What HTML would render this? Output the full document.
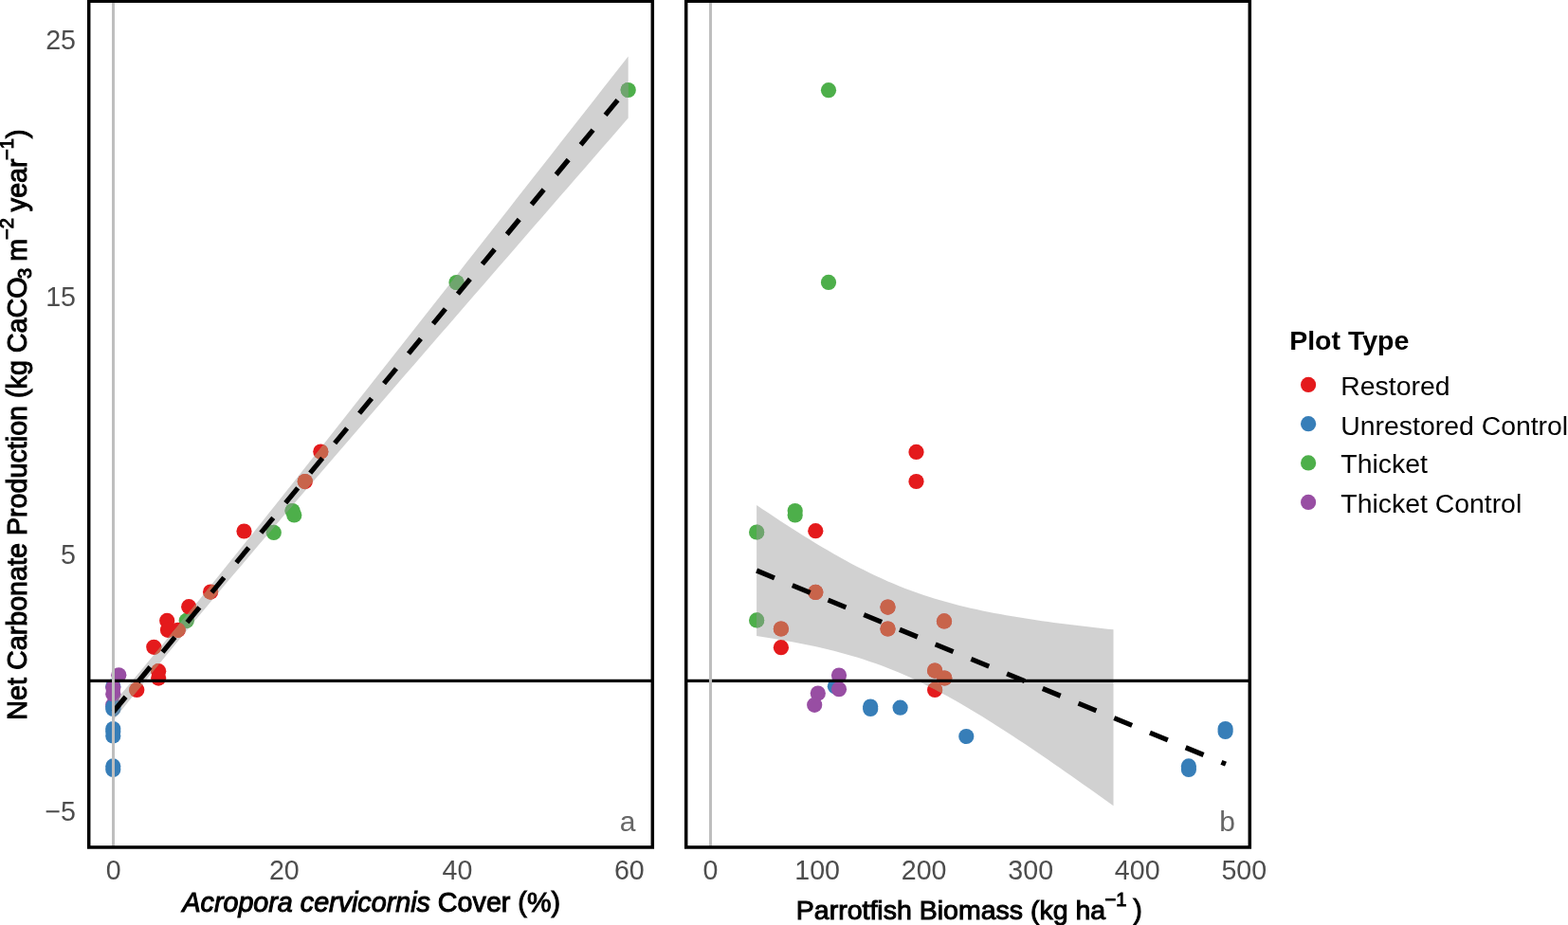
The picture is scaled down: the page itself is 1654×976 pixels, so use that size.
<!DOCTYPE html>
<html><head><meta charset="utf-8"><title>Net carbonate production</title>
<style>html,body{margin:0;padding:0;background:#fff;overflow:hidden}svg{display:block}</style>
</head><body>
<svg width="1654" height="976" viewBox="0 0 1654 976" font-family="'Liberation Sans', Arial, Helvetica, sans-serif">
<rect width="1654" height="976" fill="#fff"/>
<defs>
<clipPath id="ca"><rect x="93.7" y="1.2" width="594.6" height="892.8"/></clipPath>
<clipPath id="cb"><rect x="723.7" y="1.2" width="594.6" height="892.8"/></clipPath>
<clipPath id="ra"><path d="M119.60,741.96 L128.65,731.23 L137.70,720.46 L146.75,709.66 L155.81,698.82 L164.86,687.93 L173.91,677.01 L182.96,666.04 L192.01,655.03 L201.06,643.97 L210.12,632.88 L219.17,621.74 L228.22,610.57 L237.27,599.35 L246.32,588.11 L255.38,576.84 L264.43,565.53 L273.48,554.21 L282.53,542.86 L291.58,531.49 L300.63,520.10 L309.69,508.69 L318.74,497.28 L327.79,485.84 L336.84,474.40 L345.89,462.95 L354.94,451.48 L364.00,440.01 L373.05,428.53 L382.10,417.05 L391.15,405.55 L400.20,394.06 L409.25,382.55 L418.30,371.04 L427.36,359.53 L436.41,348.02 L445.46,336.50 L454.51,324.97 L463.56,313.45 L472.62,301.92 L481.67,290.38 L490.72,278.85 L499.77,267.31 L508.82,255.78 L517.87,244.24 L526.92,232.69 L535.98,221.15 L545.03,209.61 L554.08,198.06 L563.13,186.51 L572.18,174.96 L581.24,163.41 L590.29,151.86 L599.34,140.31 L608.39,128.75 L617.44,117.20 L626.49,105.64 L635.55,94.09 L644.60,82.53 L653.65,70.97 L662.70,59.41 L662.70,124.59 L653.65,134.99 L644.60,145.40 L635.55,155.81 L626.49,166.22 L617.44,176.63 L608.39,187.05 L599.34,197.46 L590.29,207.87 L581.24,218.29 L572.18,228.71 L563.13,239.12 L554.08,249.54 L545.03,259.96 L535.98,270.38 L526.92,280.81 L517.87,291.23 L508.82,301.66 L499.77,312.09 L490.72,322.52 L481.67,332.95 L472.62,343.38 L463.56,353.82 L454.51,364.26 L445.46,374.70 L436.41,385.15 L427.36,395.60 L418.30,406.06 L409.25,416.51 L400.20,426.98 L391.15,437.45 L382.10,447.92 L373.05,458.40 L364.00,468.89 L354.94,479.38 L345.89,489.89 L336.84,500.40 L327.79,510.92 L318.74,521.46 L309.69,532.01 L300.63,542.57 L291.58,553.15 L282.53,563.74 L273.48,574.36 L264.43,585.00 L255.38,595.66 L246.32,606.36 L237.27,617.08 L228.22,627.83 L219.17,638.63 L210.12,649.46 L201.06,660.33 L192.01,671.24 L182.96,682.19 L173.91,693.19 L164.86,704.23 L155.81,715.32 L146.75,726.44 L137.70,737.61 L128.65,748.81 L119.60,760.04 Z"/></clipPath>
<clipPath id="rb"><path d="M798.10,532.90 L804.37,537.13 L810.65,541.34 L816.92,545.50 L823.19,549.63 L829.47,553.71 L835.74,557.75 L842.01,561.74 L848.29,565.69 L854.56,569.57 L860.83,573.40 L867.11,577.16 L873.38,580.86 L879.65,584.48 L885.93,588.03 L892.20,591.50 L898.47,594.88 L904.75,598.17 L911.02,601.37 L917.29,604.47 L923.57,607.47 L929.84,610.37 L936.11,613.16 L942.39,615.85 L948.66,618.43 L954.93,620.90 L961.21,623.27 L967.48,625.53 L973.75,627.69 L980.03,629.75 L986.30,631.71 L992.57,633.58 L998.85,635.36 L1005.12,637.05 L1011.39,638.67 L1017.67,640.21 L1023.94,641.68 L1030.21,643.08 L1036.49,644.42 L1042.76,645.70 L1049.03,646.93 L1055.31,648.11 L1061.58,649.23 L1067.85,650.32 L1074.13,651.36 L1080.40,652.37 L1086.67,653.34 L1092.95,654.28 L1099.22,655.18 L1105.49,656.06 L1111.77,656.91 L1118.04,657.74 L1124.31,658.54 L1130.59,659.32 L1136.86,660.09 L1143.13,660.83 L1149.41,661.56 L1155.68,662.26 L1161.95,662.96 L1168.23,663.64 L1174.50,664.30 L1174.50,850.30 L1168.23,845.79 L1161.95,841.29 L1155.68,836.81 L1149.41,832.34 L1143.13,827.89 L1136.86,823.46 L1130.59,819.04 L1124.31,814.65 L1118.04,810.28 L1111.77,805.93 L1105.49,801.60 L1099.22,797.30 L1092.95,793.03 L1086.67,788.79 L1080.40,784.59 L1074.13,780.41 L1067.85,776.28 L1061.58,772.19 L1055.31,768.14 L1049.03,764.14 L1042.76,760.19 L1036.49,756.29 L1030.21,752.46 L1023.94,748.68 L1017.67,744.98 L1011.39,741.34 L1005.12,737.78 L998.85,734.30 L992.57,730.90 L986.30,727.59 L980.03,724.38 L973.75,721.26 L967.48,718.24 L961.21,715.33 L954.93,712.52 L948.66,709.81 L942.39,707.21 L936.11,704.72 L929.84,702.34 L923.57,700.06 L917.29,697.89 L911.02,695.81 L904.75,693.83 L898.47,691.95 L892.20,690.15 L885.93,688.44 L879.65,686.82 L873.38,685.26 L867.11,683.78 L860.83,682.37 L854.56,681.02 L848.29,679.73 L842.01,678.49 L835.74,677.31 L829.47,676.17 L823.19,675.08 L816.92,674.03 L810.65,673.02 L804.37,672.04 L798.10,671.10 Z"/></clipPath>
</defs>
<g clip-path="url(#ca)">
<circle cx="662.7" cy="95.0" r="8.1" fill="#4DAF4A"/>
<circle cx="481.5" cy="298.0" r="8.1" fill="#4DAF4A"/>
<circle cx="308.6" cy="539.0" r="8.1" fill="#4DAF4A"/>
<circle cx="310.3" cy="543.5" r="8.1" fill="#4DAF4A"/>
<circle cx="288.8" cy="561.9" r="8.1" fill="#4DAF4A"/>
<circle cx="196.7" cy="654.9" r="8.1" fill="#4DAF4A"/>
<circle cx="338.3" cy="476.5" r="8.1" fill="#E41A1C"/>
<circle cx="321.8" cy="508.1" r="8.1" fill="#E41A1C"/>
<circle cx="257.5" cy="560.5" r="8.1" fill="#E41A1C"/>
<circle cx="222.1" cy="624.6" r="8.1" fill="#E41A1C"/>
<circle cx="199.2" cy="640.2" r="8.1" fill="#E41A1C"/>
<circle cx="176.2" cy="654.9" r="8.1" fill="#E41A1C"/>
<circle cx="177.0" cy="664.8" r="8.1" fill="#E41A1C"/>
<circle cx="187.7" cy="664.8" r="8.1" fill="#E41A1C"/>
<circle cx="162.3" cy="682.8" r="8.1" fill="#E41A1C"/>
<circle cx="167.2" cy="708.2" r="8.1" fill="#E41A1C"/>
<circle cx="167.2" cy="715.6" r="8.1" fill="#E41A1C"/>
<circle cx="144.3" cy="727.9" r="8.1" fill="#E41A1C"/>
<circle cx="119.3" cy="743.8" r="8.1" fill="#984EA3"/>
<circle cx="119.3" cy="724.3" r="8.1" fill="#377EB8"/>
<circle cx="119.3" cy="745.5" r="8.1" fill="#377EB8"/>
<circle cx="119.3" cy="748.0" r="8.1" fill="#377EB8"/>
<circle cx="119.3" cy="769.0" r="8.1" fill="#377EB8"/>
<circle cx="119.3" cy="772.0" r="8.1" fill="#377EB8"/>
<circle cx="119.3" cy="776.5" r="8.1" fill="#377EB8"/>
<circle cx="119.3" cy="808.4" r="8.1" fill="#377EB8"/>
<circle cx="119.3" cy="812.0" r="8.1" fill="#377EB8"/>
<circle cx="125.3" cy="712.3" r="8.1" fill="#984EA3"/>
<circle cx="119.3" cy="725.5" r="8.1" fill="#984EA3"/>
<circle cx="119.3" cy="732.2" r="8.1" fill="#984EA3"/>
<path d="M119.60,741.96 L128.65,731.23 L137.70,720.46 L146.75,709.66 L155.81,698.82 L164.86,687.93 L173.91,677.01 L182.96,666.04 L192.01,655.03 L201.06,643.97 L210.12,632.88 L219.17,621.74 L228.22,610.57 L237.27,599.35 L246.32,588.11 L255.38,576.84 L264.43,565.53 L273.48,554.21 L282.53,542.86 L291.58,531.49 L300.63,520.10 L309.69,508.69 L318.74,497.28 L327.79,485.84 L336.84,474.40 L345.89,462.95 L354.94,451.48 L364.00,440.01 L373.05,428.53 L382.10,417.05 L391.15,405.55 L400.20,394.06 L409.25,382.55 L418.30,371.04 L427.36,359.53 L436.41,348.02 L445.46,336.50 L454.51,324.97 L463.56,313.45 L472.62,301.92 L481.67,290.38 L490.72,278.85 L499.77,267.31 L508.82,255.78 L517.87,244.24 L526.92,232.69 L535.98,221.15 L545.03,209.61 L554.08,198.06 L563.13,186.51 L572.18,174.96 L581.24,163.41 L590.29,151.86 L599.34,140.31 L608.39,128.75 L617.44,117.20 L626.49,105.64 L635.55,94.09 L644.60,82.53 L653.65,70.97 L662.70,59.41 L662.70,124.59 L653.65,134.99 L644.60,145.40 L635.55,155.81 L626.49,166.22 L617.44,176.63 L608.39,187.05 L599.34,197.46 L590.29,207.87 L581.24,218.29 L572.18,228.71 L563.13,239.12 L554.08,249.54 L545.03,259.96 L535.98,270.38 L526.92,280.81 L517.87,291.23 L508.82,301.66 L499.77,312.09 L490.72,322.52 L481.67,332.95 L472.62,343.38 L463.56,353.82 L454.51,364.26 L445.46,374.70 L436.41,385.15 L427.36,395.60 L418.30,406.06 L409.25,416.51 L400.20,426.98 L391.15,437.45 L382.10,447.92 L373.05,458.40 L364.00,468.89 L354.94,479.38 L345.89,489.89 L336.84,500.40 L327.79,510.92 L318.74,521.46 L309.69,532.01 L300.63,542.57 L291.58,553.15 L282.53,563.74 L273.48,574.36 L264.43,585.00 L255.38,595.66 L246.32,606.36 L237.27,617.08 L228.22,627.83 L219.17,638.63 L210.12,649.46 L201.06,660.33 L192.01,671.24 L182.96,682.19 L173.91,693.19 L164.86,704.23 L155.81,715.32 L146.75,726.44 L137.70,737.61 L128.65,748.81 L119.60,760.04 Z" fill="#999999" fill-opacity="0.45"/>
<g clip-path="url(#ra)">
<circle cx="662.7" cy="95.0" r="8.1" fill="rgb(111,165,110)"/>
<circle cx="481.5" cy="298.0" r="8.1" fill="rgb(111,165,110)"/>
<circle cx="308.6" cy="539.0" r="8.1" fill="rgb(111,165,110)"/>
<circle cx="310.3" cy="543.5" r="8.1" fill="rgb(111,165,110)"/>
<circle cx="288.8" cy="561.9" r="8.1" fill="rgb(111,165,110)"/>
<circle cx="196.7" cy="654.9" r="8.1" fill="rgb(111,165,110)"/>
<circle cx="338.3" cy="476.5" r="8.1" fill="rgb(200,100,75)"/>
<circle cx="321.8" cy="508.1" r="8.1" fill="rgb(200,100,75)"/>
<circle cx="257.5" cy="560.5" r="8.1" fill="rgb(200,100,75)"/>
<circle cx="222.1" cy="624.6" r="8.1" fill="rgb(200,100,75)"/>
<circle cx="199.2" cy="640.2" r="8.1" fill="rgb(200,100,75)"/>
<circle cx="176.2" cy="654.9" r="8.1" fill="rgb(200,100,75)"/>
<circle cx="177.0" cy="664.8" r="8.1" fill="rgb(200,100,75)"/>
<circle cx="187.7" cy="664.8" r="8.1" fill="rgb(200,100,75)"/>
<circle cx="162.3" cy="682.8" r="8.1" fill="rgb(200,100,75)"/>
<circle cx="167.2" cy="708.2" r="8.1" fill="rgb(200,100,75)"/>
<circle cx="167.2" cy="715.6" r="8.1" fill="rgb(200,100,75)"/>
<circle cx="144.3" cy="727.9" r="8.1" fill="rgb(200,100,75)"/>
<circle cx="119.3" cy="743.8" r="8.1" fill="rgb(152,112,158)"/>
<circle cx="119.3" cy="724.3" r="8.1" fill="rgb(99,138,170)"/>
<circle cx="119.3" cy="745.5" r="8.1" fill="rgb(99,138,170)"/>
<circle cx="119.3" cy="748.0" r="8.1" fill="rgb(99,138,170)"/>
<circle cx="119.3" cy="769.0" r="8.1" fill="rgb(99,138,170)"/>
<circle cx="119.3" cy="772.0" r="8.1" fill="rgb(99,138,170)"/>
<circle cx="119.3" cy="776.5" r="8.1" fill="rgb(99,138,170)"/>
<circle cx="119.3" cy="808.4" r="8.1" fill="rgb(99,138,170)"/>
<circle cx="119.3" cy="812.0" r="8.1" fill="rgb(99,138,170)"/>
<circle cx="125.3" cy="712.3" r="8.1" fill="rgb(152,112,158)"/>
<circle cx="119.3" cy="725.5" r="8.1" fill="rgb(152,112,158)"/>
<circle cx="119.3" cy="732.2" r="8.1" fill="rgb(152,112,158)"/>
</g>
<line x1="119.6" y1="751.0" x2="662.7" y2="92.0" stroke="#000" stroke-width="5.2" stroke-dasharray="20.4 20.4"/>
<line x1="90" y1="718.4" x2="700" y2="718.4" stroke="#000" stroke-width="3.2"/>
<line x1="119.5" y1="0" x2="119.5" y2="900" stroke="#BEBEBE" stroke-width="3"/>
</g>
<g clip-path="url(#cb)">
<circle cx="874.0" cy="95.2" r="8.1" fill="#4DAF4A"/>
<circle cx="874.0" cy="297.9" r="8.1" fill="#4DAF4A"/>
<circle cx="838.7" cy="539.0" r="8.1" fill="#4DAF4A"/>
<circle cx="838.7" cy="543.5" r="8.1" fill="#4DAF4A"/>
<circle cx="798.1" cy="561.5" r="8.1" fill="#4DAF4A"/>
<circle cx="798.1" cy="654.4" r="8.1" fill="#4DAF4A"/>
<circle cx="966.5" cy="476.9" r="8.1" fill="#E41A1C"/>
<circle cx="966.5" cy="508.0" r="8.1" fill="#E41A1C"/>
<circle cx="860.3" cy="560.2" r="8.1" fill="#E41A1C"/>
<circle cx="860.3" cy="624.9" r="8.1" fill="#E41A1C"/>
<circle cx="823.9" cy="663.5" r="8.1" fill="#E41A1C"/>
<circle cx="823.9" cy="683.2" r="8.1" fill="#E41A1C"/>
<circle cx="936.5" cy="640.6" r="8.1" fill="#E41A1C"/>
<circle cx="936.5" cy="663.5" r="8.1" fill="#E41A1C"/>
<circle cx="996.0" cy="655.4" r="8.1" fill="#E41A1C"/>
<circle cx="986.1" cy="707.6" r="8.1" fill="#E41A1C"/>
<circle cx="996.3" cy="715.5" r="8.1" fill="#E41A1C"/>
<circle cx="986.1" cy="727.9" r="8.1" fill="#E41A1C"/>
<circle cx="880.9" cy="724.3" r="8.1" fill="#377EB8"/>
<circle cx="918.2" cy="745.5" r="8.1" fill="#377EB8"/>
<circle cx="918.2" cy="748.0" r="8.1" fill="#377EB8"/>
<circle cx="949.6" cy="746.7" r="8.1" fill="#377EB8"/>
<circle cx="1019.3" cy="777.0" r="8.1" fill="#377EB8"/>
<circle cx="1292.6" cy="769.0" r="8.1" fill="#377EB8"/>
<circle cx="1292.6" cy="772.0" r="8.1" fill="#377EB8"/>
<circle cx="1253.9" cy="808.4" r="8.1" fill="#377EB8"/>
<circle cx="1253.9" cy="812.0" r="8.1" fill="#377EB8"/>
<circle cx="885.0" cy="712.6" r="8.1" fill="#984EA3"/>
<circle cx="885.0" cy="727.2" r="8.1" fill="#984EA3"/>
<circle cx="862.8" cy="731.5" r="8.1" fill="#984EA3"/>
<circle cx="859.2" cy="743.8" r="8.1" fill="#984EA3"/>
<path d="M798.10,532.90 L804.37,537.13 L810.65,541.34 L816.92,545.50 L823.19,549.63 L829.47,553.71 L835.74,557.75 L842.01,561.74 L848.29,565.69 L854.56,569.57 L860.83,573.40 L867.11,577.16 L873.38,580.86 L879.65,584.48 L885.93,588.03 L892.20,591.50 L898.47,594.88 L904.75,598.17 L911.02,601.37 L917.29,604.47 L923.57,607.47 L929.84,610.37 L936.11,613.16 L942.39,615.85 L948.66,618.43 L954.93,620.90 L961.21,623.27 L967.48,625.53 L973.75,627.69 L980.03,629.75 L986.30,631.71 L992.57,633.58 L998.85,635.36 L1005.12,637.05 L1011.39,638.67 L1017.67,640.21 L1023.94,641.68 L1030.21,643.08 L1036.49,644.42 L1042.76,645.70 L1049.03,646.93 L1055.31,648.11 L1061.58,649.23 L1067.85,650.32 L1074.13,651.36 L1080.40,652.37 L1086.67,653.34 L1092.95,654.28 L1099.22,655.18 L1105.49,656.06 L1111.77,656.91 L1118.04,657.74 L1124.31,658.54 L1130.59,659.32 L1136.86,660.09 L1143.13,660.83 L1149.41,661.56 L1155.68,662.26 L1161.95,662.96 L1168.23,663.64 L1174.50,664.30 L1174.50,850.30 L1168.23,845.79 L1161.95,841.29 L1155.68,836.81 L1149.41,832.34 L1143.13,827.89 L1136.86,823.46 L1130.59,819.04 L1124.31,814.65 L1118.04,810.28 L1111.77,805.93 L1105.49,801.60 L1099.22,797.30 L1092.95,793.03 L1086.67,788.79 L1080.40,784.59 L1074.13,780.41 L1067.85,776.28 L1061.58,772.19 L1055.31,768.14 L1049.03,764.14 L1042.76,760.19 L1036.49,756.29 L1030.21,752.46 L1023.94,748.68 L1017.67,744.98 L1011.39,741.34 L1005.12,737.78 L998.85,734.30 L992.57,730.90 L986.30,727.59 L980.03,724.38 L973.75,721.26 L967.48,718.24 L961.21,715.33 L954.93,712.52 L948.66,709.81 L942.39,707.21 L936.11,704.72 L929.84,702.34 L923.57,700.06 L917.29,697.89 L911.02,695.81 L904.75,693.83 L898.47,691.95 L892.20,690.15 L885.93,688.44 L879.65,686.82 L873.38,685.26 L867.11,683.78 L860.83,682.37 L854.56,681.02 L848.29,679.73 L842.01,678.49 L835.74,677.31 L829.47,676.17 L823.19,675.08 L816.92,674.03 L810.65,673.02 L804.37,672.04 L798.10,671.10 Z" fill="#999999" fill-opacity="0.45"/>
<g clip-path="url(#rb)">
<circle cx="874.0" cy="95.2" r="8.1" fill="rgb(111,165,110)"/>
<circle cx="874.0" cy="297.9" r="8.1" fill="rgb(111,165,110)"/>
<circle cx="838.7" cy="539.0" r="8.1" fill="rgb(111,165,110)"/>
<circle cx="838.7" cy="543.5" r="8.1" fill="rgb(111,165,110)"/>
<circle cx="798.1" cy="561.5" r="8.1" fill="rgb(111,165,110)"/>
<circle cx="798.1" cy="654.4" r="8.1" fill="rgb(111,165,110)"/>
<circle cx="966.5" cy="476.9" r="8.1" fill="rgb(200,100,75)"/>
<circle cx="966.5" cy="508.0" r="8.1" fill="rgb(200,100,75)"/>
<circle cx="860.3" cy="560.2" r="8.1" fill="rgb(200,100,75)"/>
<circle cx="860.3" cy="624.9" r="8.1" fill="rgb(200,100,75)"/>
<circle cx="823.9" cy="663.5" r="8.1" fill="rgb(200,100,75)"/>
<circle cx="823.9" cy="683.2" r="8.1" fill="rgb(200,100,75)"/>
<circle cx="936.5" cy="640.6" r="8.1" fill="rgb(200,100,75)"/>
<circle cx="936.5" cy="663.5" r="8.1" fill="rgb(200,100,75)"/>
<circle cx="996.0" cy="655.4" r="8.1" fill="rgb(200,100,75)"/>
<circle cx="986.1" cy="707.6" r="8.1" fill="rgb(200,100,75)"/>
<circle cx="996.3" cy="715.5" r="8.1" fill="rgb(200,100,75)"/>
<circle cx="986.1" cy="727.9" r="8.1" fill="rgb(200,100,75)"/>
<circle cx="880.9" cy="724.3" r="8.1" fill="rgb(99,138,170)"/>
<circle cx="918.2" cy="745.5" r="8.1" fill="rgb(99,138,170)"/>
<circle cx="918.2" cy="748.0" r="8.1" fill="rgb(99,138,170)"/>
<circle cx="949.6" cy="746.7" r="8.1" fill="rgb(99,138,170)"/>
<circle cx="1019.3" cy="777.0" r="8.1" fill="rgb(99,138,170)"/>
<circle cx="1292.6" cy="769.0" r="8.1" fill="rgb(99,138,170)"/>
<circle cx="1292.6" cy="772.0" r="8.1" fill="rgb(99,138,170)"/>
<circle cx="1253.9" cy="808.4" r="8.1" fill="rgb(99,138,170)"/>
<circle cx="1253.9" cy="812.0" r="8.1" fill="rgb(99,138,170)"/>
<circle cx="885.0" cy="712.6" r="8.1" fill="rgb(152,112,158)"/>
<circle cx="885.0" cy="727.2" r="8.1" fill="rgb(152,112,158)"/>
<circle cx="862.8" cy="731.5" r="8.1" fill="rgb(152,112,158)"/>
<circle cx="859.2" cy="743.8" r="8.1" fill="rgb(152,112,158)"/>
</g>
<line x1="798.1" y1="602.0" x2="1293.0" y2="806.20" stroke="#000" stroke-width="5.2" stroke-dasharray="20.4 20.4"/>
<line x1="720" y1="718.4" x2="1330" y2="718.4" stroke="#000" stroke-width="3.2"/>
<line x1="749.5" y1="0" x2="749.5" y2="900" stroke="#BEBEBE" stroke-width="3"/>
</g>
<text x="662" y="876.5" font-size="30" fill="#666" text-anchor="middle">a</text>
<text x="1294.6" y="876.5" font-size="30" fill="#666" text-anchor="middle">b</text>
<rect x="93.7" y="1.2" width="594.6" height="892.8" fill="none" stroke="#000" stroke-width="3.5"/>
<rect x="723.7" y="1.2" width="594.6" height="892.8" fill="none" stroke="#000" stroke-width="3.5"/>
<g font-size="28.6" fill="#4D4D4D" text-anchor="end">
<text x="80" y="52">25</text>
<text x="80" y="323">15</text>
<text x="80" y="594.5">5</text>
<text x="80" y="865.5">&#8722;5</text>
</g>
<g font-size="28.6" fill="#4D4D4D" text-anchor="middle">
<text x="119.6" y="928.3">0</text>
<text x="299.8" y="928.3">20</text>
<text x="482.4" y="928.3">40</text>
<text x="663.8" y="928.3">60</text>
<text x="749.5" y="928.3">0</text>
<text x="862.1" y="928.3">100</text>
<text x="974.6" y="928.3">200</text>
<text x="1087.2" y="928.3">300</text>
<text x="1199.7" y="928.3">400</text>
<text x="1312.3" y="928.3">500</text>
</g>
<g fill="#000" stroke="#000" stroke-width="1.0">
<text x="391.7" y="961.5" font-size="28.7" text-anchor="middle"><tspan font-style="italic">Acropora cervicornis</tspan> Cover (%)</text>
<text x="839.85" y="969.5" font-size="28.5">Parrotfish Biomass (kg ha</text>
<text x="1165.4" y="955.6" font-size="20.1">&#8722;1</text>
<text x="1195.2" y="969.5" font-size="28.7">)</text>
<text transform="translate(27.75,759.65) rotate(-90)" font-size="28.7" >Net Carbonate Production (kg CaCO</text>
<text transform="translate(33.1,293.97) rotate(-90)" font-size="20.1" >3</text>
<text transform="translate(27.75,275.7) rotate(-90)" font-size="28.7" >m</text>
<text transform="translate(14.4,253.1) rotate(-90)" font-size="20.1" >&#8722;2</text>
<text transform="translate(27.75,223.2) rotate(-90)" font-size="28.7" >year</text>
<text transform="translate(14.4,169.0) rotate(-90)" font-size="20.1" >&#8722;1</text>
<text transform="translate(27.75,145.97) rotate(-90)" font-size="28.7" >)</text>
</g>
<text x="1360.2" y="369" font-size="28.5" font-weight="bold" fill="#000">Plot Type</text>
<circle cx="1380.1" cy="405.9" r="8.1" fill="#E41A1C"/>
<circle cx="1380.1" cy="447.2" r="8.1" fill="#377EB8"/>
<circle cx="1380.1" cy="488.4" r="8.1" fill="#4DAF4A"/>
<circle cx="1380.1" cy="529.9" r="8.1" fill="#984EA3"/>
<g font-size="28.4" fill="#000">
<text x="1414.3" y="416.9">Restored</text>
<text x="1414.3" y="459.2">Unrestored Control</text>
<text x="1414.3" y="499.4">Thicket</text>
<text x="1414.3" y="541.2">Thicket Control</text>
</g>
</svg>
</body></html>
